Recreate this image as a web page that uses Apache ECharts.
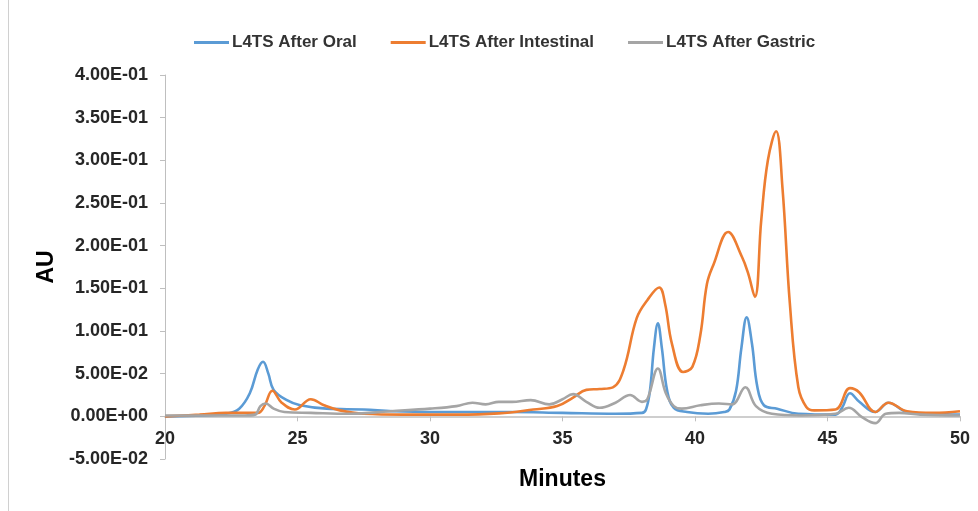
<!DOCTYPE html>
<html>
<head>
<meta charset="utf-8">
<script src="https://cdn.jsdelivr.net/npm/echarts@6/dist/echarts.min.js"></script>
<style>
html,body{margin:0;padding:0;background:#fff;}
#chart{width:978px;height:511px;}
</style>
</head>
<body>
<div id="chart"></div>
<script>
// Series names
var seriesNames = ['L4TS After Oral', 'L4TS After Intestinal', 'L4TS After Gastric'];

// [minutes, AU]
var oralData = [[20,0],[21.5,0.001],[22.3,0.003],[22.8,0.009],[23.2,0.027],[23.5,0.055],[23.7,0.064],[23.9,0.05],[24.1,0.031],[24.6,0.019],[25.1,0.013],[26.1,0.009],[27.5,0.008],[28.6,0.006],[31,0.005],[33,0.005],[35,0.004],[37,0.003],[38,0.004],[38.15,0.008],[38.3,0.03],[38.45,0.08],[38.6,0.109],[38.75,0.08],[38.95,0.03],[39.2,0.01],[39.7,0.005],[40.5,0.003],[41.1,0.005],[41.3,0.008],[41.55,0.03],[41.75,0.08],[41.95,0.116],[42.15,0.085],[42.35,0.035],[42.6,0.013],[43.1,0.009],[43.9,0.003],[45.3,0.002],[45.55,0.01],[45.85,0.027],[46.2,0.017],[46.8,0.005],[47.3,0.016],[48,0.005],[49,0.003],[50,0.002]];

var intestinalData = [[20,0],[21.3,0.002],[22.3,0.004],[23.5,0.004],[23.75,0.012],[24.05,0.030],[24.4,0.016],[24.9,0.008],[25.5,0.020],[26.0,0.013],[26.6,0.007],[27.5,0.003],[29,0.002],[31,0.002],[32.6,0.0035],[33.9,0.008],[34.8,0.012],[35.4,0.022],[35.9,0.031],[36.4,0.032],[36.9,0.034],[37.3,0.054],[37.8,0.115],[38.2,0.136],[38.65,0.151],[38.87,0.132],[39.13,0.085],[39.55,0.052],[39.9,0.058],[40.2,0.095],[40.45,0.155],[40.7,0.178],[41.25,0.216],[41.77,0.187],[42.0,0.168],[42.26,0.14],[42.5,0.23],[42.75,0.30],[43.06,0.334],[43.3,0.268],[43.58,0.132],[43.9,0.034],[44.2,0.011],[44.5,0.007],[45.3,0.008],[45.85,0.033],[46.2,0.028],[46.8,0.005],[47.3,0.016],[48,0.006],[49,0.004],[50,0.006]];

var gastricData = [[20,0.001],[22,0.001],[23,0.001],[23.4,0.002],[23.6,0.012],[23.8,0.015],[24.1,0.009],[24.5,0.005],[25.5,0.004],[27,0.003],[28.5,0.006],[30,0.009],[31,0.012],[31.6,0.016],[32.1,0.014],[32.6,0.017],[33.1,0.017],[33.8,0.019],[34.5,0.014],[35,0.02],[35.4,0.026],[35.9,0.017],[36.4,0.01],[37,0.016],[37.55,0.025],[38.0,0.017],[38.2,0.02],[38.6,0.056],[38.9,0.027],[39.2,0.012],[39.5,0.009],[40.2,0.013],[40.9,0.015],[41.4,0.014],[41.9,0.034],[42.3,0.012],[42.9,0.003],[44,0.001],[45.3,0.003],[45.8,0.01],[46.3,-0.001],[46.8,-0.008],[47.2,0.003],[47.7,0.004],[48.5,0.002],[50,0.001]];

var colors = ['#5B9BD5', '#ED7D31', '#A5A5A5'];

var Y_MIN = -0.05, Y_MAX = 0.4;
var GRID_TOP = 75, GRID_BOTTOM = 52, H = 511;

function sci(v) {
  if (Math.abs(v) < 1e-12) v = 0;
  var parts = v.toExponential(2).split('e');
  var e = parseInt(parts[1], 10);
  var ae = Math.abs(e);
  return parts[0] + 'E' + (e < 0 ? '-' : '+') + (ae < 10 ? '0' : '') + ae;
}

var FONT = "'Liberation Sans', Arial, sans-serif";
var chart = echarts.init(document.getElementById('chart'));

function mk(name, data, color) {
  return {
    name: name, type: 'line', data: data, smooth: 0.4,
    showSymbol: false, symbol: 'none',
    lineStyle: { color: color, width: 2.6 },
    itemStyle: { color: color }
  };
}

// Place x axis at y = 0 by offsetting from the grid bottom
var plotH = H - GRID_TOP - GRID_BOTTOM;
var zeroOffset = -plotH * (0 - Y_MIN) / (Y_MAX - Y_MIN);

chart.setOption({
  animation: false,
  backgroundColor: '#fff',
  color: colors,
  graphic: [{
    type: 'line', shape: { x1: 8.5, y1: 0, x2: 8.5, y2: 511 },
    style: { stroke: '#d0d0d0', lineWidth: 1 }
  }],
  legend: {
    left: 189, top: 29,
    icon: 'rect', itemWidth: 35, itemHeight: 3, itemGap: 34,
    textStyle: { fontFamily: FONT, fontSize: 17, fontWeight: 'bold', color: '#333', padding: [0,0,0,-2] },
    data: seriesNames
  },
  grid: { left: 165, right: 18, top: GRID_TOP, bottom: GRID_BOTTOM, containLabel: false, outerBoundsMode: 'none' },
  xAxis: {
    type: 'value', min: 20, max: 50, interval: 5,
    position: 'bottom', offset: zeroOffset,
    axisLine: { onZero: false, lineStyle: { color: '#BFBFBF', width: 1.5 } },
    axisTick: { show: true, inside: false, length: 5, lineStyle: { color: '#BFBFBF' } },
    splitLine: { show: false },
    axisLabel: { margin: 14, fontFamily: FONT, fontSize: 18, fontWeight: 'bold', color: '#262626' },
    name: 'Minutes', nameLocation: 'middle', nameGap: 52,
    nameTextStyle: { fontFamily: FONT, fontSize: 23, fontWeight: 'bold', color: '#000' }
  },
  yAxis: {
    type: 'value', min: Y_MIN, max: Y_MAX, interval: 0.05,
    axisLine: { show: true, lineStyle: { color: '#BFBFBF', width: 1 } },
    axisTick: { show: true, inside: false, length: 5, lineStyle: { color: '#BFBFBF' } },
    splitLine: { show: false },
    axisLabel: { margin: 17, fontFamily: FONT, fontSize: 18, fontWeight: 'bold', color: '#262626', formatter: sci },
    name: 'AU', nameLocation: 'middle', nameGap: 103,
    nameTextStyle: { fontFamily: FONT, fontSize: 23, fontWeight: 'bold', color: '#000' }
  },
  series: [
    mk(seriesNames[0], oralData, colors[0]),
    mk(seriesNames[1], intestinalData, colors[1]),
    mk(seriesNames[2], gastricData, colors[2])
  ]
});
</script>
</body>
</html>
